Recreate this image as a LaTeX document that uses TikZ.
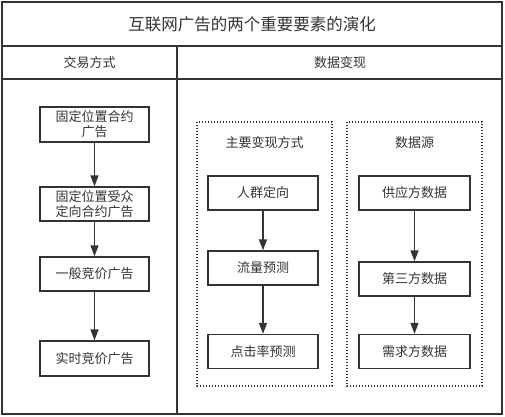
\documentclass[tikz,border=0pt]{standalone}
\usepackage{fontspec}
\setmainfont{Noto Sans CJK SC}
\usetikzlibrary{arrows.meta}
\definecolor{linegray}{HTML}{333333}
\tikzset{%
  frame/.style    = {draw=linegray, line width=1.3pt},%
  headtext/.style = {text=linegray, font=\fontsize{13}{15}\selectfont},%
  titletext/.style= {text=linegray, font=\fontsize{16.5}{19}\selectfont},%
  stepbox/.style  = {shape=rectangle, draw=linegray, line width=1.4pt,%
                     align=center, text=linegray, inner sep=1pt,%
                     font=\fontsize{13}{15}\selectfont,%
                     minimum width=109pt, minimum height=34pt},%
  group/.style    = {draw=linegray, line width=1.1pt,%
                     dash pattern=on 1.2pt off 1.8pt},%
  flow/.style     = {draw=linegray, line width=1.4pt,%
                     -{Triangle[length=11pt,width=8pt]}}%
}
\begin{document}
\begin{tikzpicture}[x=1pt,y=-1pt]%
	\useasboundingbox (0,0) rectangle (505,416);
	% table frame
	\draw[frame] (2,2) rectangle (502,414);
	\draw[frame] (2,46) -- (502,46);
	\draw[frame] (2,79) -- (502,79);
	\draw[frame] (177,46) -- (177,414);
	\node (title) at (252,24) [titletext] {互联网广告的两个重要要素的演化};
	\node (trade) at (89.5,63) [headtext] {交易方式};
	\node (data) at (340,63) [headtext] {数据变现};
	% trading modes
	\node (fixed) at (94.5,124.5) [stepbox,minimum height=35pt] {固定位置合约\\广告};
	\node (target) at (94.5,204) [stepbox] {固定位置受众\\定向合约广告};
	\node (bid) at (94.5,274) [stepbox] {一般竞价广告};
	\node (rtb) at (94.5,358.5) [stepbox,minimum height=35pt] {实时竞价广告};
	\draw[flow] (fixed) -- (target);
	\draw[flow] (target) -- (bid);
	\draw[flow] (bid) -- (rtb);
	% monetisation
	\draw[group] (197,122) rectangle (332,386);
	\draw[group] (347,122) rectangle (482,386);
	\node (ways) at (264.5,143) [headtext] {主要变现方式};
	\node (source) at (414.5,143) [headtext] {数据源};
	\node (crowd) at (263,193) [stepbox,minimum width=110pt] {人群定向};
	\node (traffic) at (263,268) [stepbox,minimum width=110pt] {流量预测};
	\node (ctr) at (263,351.5) [stepbox,minimum width=110pt] {点击率预测};
	\draw[flow] (crowd) -- (traffic);
	\draw[flow] (traffic) -- (ctr);
	\node (supply) at (414.5,193) [stepbox,minimum width=111pt] {供应方数据};
	\node (third) at (414.5,279) [stepbox,minimum width=111pt] {第三方数据};
	\node (demand) at (414.5,351.5) [stepbox,minimum width=111pt] {需求方数据};
	\draw[flow] (supply) -- (third);
	\draw[flow] (third) -- (demand);
\end{tikzpicture}
\end{document}
